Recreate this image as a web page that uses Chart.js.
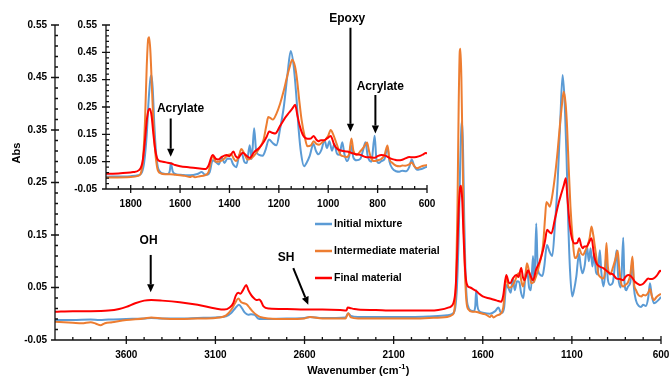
<!DOCTYPE html>
<html>
<head>
<meta charset="utf-8">
<script src="https://cdn.jsdelivr.net/npm/chart.js@4.4.0/dist/chart.umd.min.js"></script>
<style>
  html, body { margin: 0; padding: 0; background: #fff; }
  #wrap { position: relative; width: 669px; height: 378px; }
  #mainChart, #insetChart { position: absolute; left: 0; top: 0; }
</style>
</head>
<body>
<div id="wrap">
  <canvas id="mainChart" width="669" height="378"></canvas>
  <canvas id="insetChart" width="440" height="215"></canvas>
</div>
<script>
// series names (legend)
var seriesNames = ['Initial mixture', 'Intermediate material', 'Final material'];

// tick labels
var mainXTicks = [3600, 3100, 2600, 2100, 1600, 1100, 600];
var insetXTicks = [1800, 1600, 1400, 1200, 1000, 800, 600];
var absTicks = [-0.05, 0.05, 0.15, 0.25, 0.35, 0.45, 0.55];

// Initial mixture (blue)
var initialWn = [4000, 3900, 3800, 3750, 3700, 3600, 3500, 3460, 3400, 3300, 3200, 3100, 3040, 3010, 2990, 2968, 2950, 2935, 2916, 2900,
  2880, 2860, 2841, 2700, 2600, 2570, 2500, 2370, 2355, 2340, 2300, 2200, 2100, 2000, 1900, 1800, 1770, 1755, 1745, 1735,
  1727, 1720, 1716, 1711, 1704, 1697, 1690, 1680, 1665, 1650, 1642, 1637, 1630, 1620, 1600, 1560, 1530, 1512, 1500, 1490,
  1480, 1468, 1455, 1443, 1432, 1420, 1408, 1395, 1385, 1372, 1360, 1350, 1340, 1330, 1318, 1310, 1300, 1292, 1280, 1265,
  1255, 1240, 1225, 1210, 1195, 1180, 1165, 1152, 1140, 1130, 1120, 1110, 1098, 1088, 1075, 1060, 1050, 1040, 1028, 1015,
  1005, 995, 985, 975, 965, 955, 943, 935, 924, 915, 908, 898, 885, 870, 858, 849, 840, 825, 812, 805,
  795, 785, 772, 760, 752, 740, 725, 712, 700, 685, 672, 662, 652, 640, 628, 615, 600];
var initialAbs = [-0.012, -0.012, -0.011, -0.012, -0.011, -0.010, -0.009, -0.008, -0.009, -0.009, -0.008, -0.007, -0.005, 0.002, 0.010, 0.017, 0.010, 0.002, -0.002, -0.001,
  -0.002, -0.009, -0.010, -0.009, -0.008, -0.006, -0.008, -0.007, 0.001, -0.004, -0.006, -0.006, -0.006, -0.006, -0.005, -0.003, 0.000, 0.010, 0.050, 0.150,
  0.280, 0.355, 0.366, 0.320, 0.180, 0.080, 0.030, 0.012, 0.006, 0.005, 0.015, 0.045, 0.015, 0.005, 0.002, 0.000, 0.005, 0.012, 0.003, 0.002,
  0.012, 0.055, 0.048, 0.040, 0.066, 0.045, 0.062, 0.060, 0.040, 0.030, 0.075, 0.080, 0.050, 0.045, 0.110, 0.060, 0.172, 0.090, 0.075, 0.072,
  0.090, 0.131, 0.118, 0.110, 0.170, 0.250, 0.369, 0.455, 0.400, 0.300, 0.170, 0.080, 0.033, 0.045, 0.071, 0.115, 0.090, 0.077, 0.092, 0.128,
  0.100, 0.125, 0.090, 0.115, 0.080, 0.075, 0.121, 0.080, 0.052, 0.070, 0.110, 0.065, 0.055, 0.060, 0.095, 0.121, 0.070, 0.050, 0.145, 0.060,
  0.045, 0.052, 0.060, 0.102, 0.050, 0.025, 0.015, 0.013, 0.017, 0.015, 0.030, 0.058, 0.035, 0.020, 0.022, 0.026, 0.032];

// Intermediate material (orange)
var intermediateWn = [4000, 3950, 3900, 3850, 3800, 3770, 3745, 3720, 3680, 3600, 3500, 3460, 3400, 3300, 3200, 3100, 3040, 3010, 2990, 2972,
  2955, 2940, 2925, 2905, 2890, 2870, 2850, 2800, 2700, 2600, 2570, 2500, 2370, 2355, 2340, 2300, 2200, 2100, 2000, 1900,
  1800, 1770, 1760, 1750, 1742, 1735, 1729, 1725, 1720, 1714, 1707, 1700, 1692, 1680, 1660, 1640, 1620, 1600, 1580, 1560,
  1550, 1540, 1520, 1500, 1485, 1468, 1455, 1445, 1430, 1420, 1405, 1393, 1382, 1374, 1362, 1352, 1340, 1327, 1315, 1300,
  1281, 1262, 1250, 1243, 1235, 1224, 1210, 1195, 1180, 1168, 1155, 1146, 1135, 1127, 1118, 1108, 1095, 1084, 1070, 1059,
  1048, 1037, 1025, 1014, 1000, 990, 980, 971, 960, 952, 940, 924, 915, 906, 898, 885, 868, 855, 843, 835,
  825, 812, 800, 785, 772, 760, 752, 740, 725, 710, 700, 688, 672, 662, 650, 640, 625, 610, 600];
var intermediateAbs = [-0.015, -0.016, -0.017, -0.018, -0.016, -0.019, -0.022, -0.018, -0.016, -0.012, -0.009, -0.007, -0.009, -0.010, -0.009, -0.008, -0.003, 0.008, 0.020, 0.029,
  0.022, 0.020, 0.018, 0.010, 0.004, -0.002, -0.006, -0.009, -0.010, -0.009, -0.006, -0.009, -0.009, 0.001, -0.007, -0.009, -0.009, -0.009, -0.009, -0.008,
  -0.006, -0.002, 0.005, 0.060, 0.200, 0.400, 0.500, 0.505, 0.450, 0.320, 0.170, 0.080, 0.025, 0.008, 0.004, 0.004, 0.002, 0.000, -0.002, -0.006,
  -0.003, -0.007, -0.003, 0.000, 0.012, 0.071, 0.050, 0.050, 0.055, 0.062, 0.075, 0.077, 0.060, 0.052, 0.070, 0.096, 0.080, 0.058, 0.060, 0.072,
  0.096, 0.130, 0.185, 0.213, 0.210, 0.204, 0.225, 0.262, 0.310, 0.356, 0.400, 0.423, 0.400, 0.356, 0.280, 0.204, 0.140, 0.106, 0.110, 0.125,
  0.115, 0.112, 0.120, 0.128, 0.145, 0.166, 0.150, 0.128, 0.100, 0.077, 0.070, 0.067, 0.080, 0.135, 0.090, 0.075, 0.090, 0.105, 0.120, 0.090,
  0.060, 0.052, 0.055, 0.060, 0.075, 0.109, 0.060, 0.045, 0.035, 0.033, 0.036, 0.035, 0.040, 0.047, 0.032, 0.026, 0.032, 0.036, 0.038];

// Final material (red)
var finalWn = [4000, 3900, 3800, 3700, 3640, 3600, 3550, 3500, 3460, 3400, 3300, 3200, 3100, 3050, 3020, 3000, 2985, 2972, 2960, 2945,
  2927, 2915, 2900, 2885, 2870, 2855, 2845, 2830, 2800, 2700, 2600, 2500, 2400, 2365, 2358, 2345, 2320, 2300, 2200, 2100,
  2000, 1900, 1850, 1790, 1765, 1752, 1742, 1735, 1728, 1722, 1715, 1708, 1700, 1693, 1685, 1670, 1650, 1635, 1620, 1600,
  1560, 1520, 1496, 1485, 1468, 1455, 1446, 1430, 1412, 1400, 1384, 1375, 1365, 1355, 1346, 1335, 1318, 1300, 1281, 1262,
  1250, 1239, 1225, 1215, 1196, 1175, 1159, 1145, 1134, 1125, 1115, 1102, 1084, 1070, 1059, 1048, 1040, 1030, 1018, 1005,
  990, 975, 962, 945, 924, 905, 887, 870, 849, 830, 812, 800, 784, 770, 760, 746, 730, 718, 700, 690,
  671, 660, 643, 625, 615, 605, 600];
var finalAbs = [0.004, 0.005, 0.005, 0.006, 0.009, 0.013, 0.020, 0.025, 0.026, 0.025, 0.022, 0.017, 0.010, 0.008, 0.012, 0.020, 0.035, 0.040, 0.038, 0.045,
  0.055, 0.045, 0.036, 0.030, 0.026, 0.027, 0.024, 0.014, 0.010, 0.009, 0.008, 0.008, 0.007, 0.006, 0.012, 0.011, 0.009, 0.008, 0.007, 0.006,
  0.006, 0.006, 0.007, 0.012, 0.020, 0.050, 0.130, 0.200, 0.238, 0.244, 0.215, 0.150, 0.090, 0.062, 0.053, 0.050, 0.046, 0.043, 0.038, 0.033,
  0.029, 0.025, 0.023, 0.035, 0.074, 0.060, 0.058, 0.068, 0.074, 0.070, 0.087, 0.070, 0.064, 0.075, 0.083, 0.075, 0.064, 0.085, 0.099, 0.121,
  0.140, 0.160, 0.155, 0.153, 0.179, 0.210, 0.229, 0.245, 0.258, 0.220, 0.180, 0.147, 0.134, 0.135, 0.144, 0.130, 0.125, 0.128, 0.128, 0.135,
  0.144, 0.110, 0.096, 0.090, 0.087, 0.082, 0.077, 0.075, 0.067, 0.066, 0.064, 0.070, 0.074, 0.072, 0.068, 0.061, 0.057, 0.055, 0.057, 0.061,
  0.067, 0.066, 0.067, 0.072, 0.077, 0.082, 0.080];

var colors = ['#5B9BD5', '#ED7D31', '#FF0000'];
var FONT = "'Liberation Sans', Arial, sans-serif";

function toPoints(xs, ys) {
  return xs.map(function (x, i) { return { x: x, y: ys[i] }; });
}

function makeDatasets() {
  var sets = [[initialWn, initialAbs], [intermediateWn, intermediateAbs], [finalWn, finalAbs]];
  return sets.map(function (s, i) {
    return {
      label: seriesNames[i],
      data: toPoints(s[0], s[1]),
      borderColor: colors[i],
      borderWidth: 2,
      pointRadius: 0,
      fill: false,
      cubicInterpolationMode: 'monotone',
      order: 3 - i
    };
  });
}

// draws axis lines, major (crossing) and minor (inside) tick marks
function drawAxes(chart, xMinor, yMinor) {
  var ctx = chart.ctx, xs = chart.scales.x, ys = chart.scales.y, a = chart.chartArea;
  ctx.save();
  ctx.strokeStyle = '#111';
  ctx.lineWidth = 1.3;
  ctx.beginPath();
  ctx.moveTo(a.left, a.top);
  ctx.lineTo(a.left, a.bottom);
  ctx.lineTo(a.right, a.bottom);
  var n = Math.round((xs.max - xs.min) / xMinor), k, p;
  for (k = 0; k <= n; k++) {
    p = xs.getPixelForValue(xs.min + k * xMinor);
    ctx.moveTo(p, a.bottom);
    ctx.lineTo(p, a.bottom - 3);
  }
  xs.ticks.forEach(function (t) {
    p = xs.getPixelForValue(t.value);
    ctx.moveTo(p, a.bottom - 4);
    ctx.lineTo(p, a.bottom + 4);
  });
  n = Math.round((ys.max - ys.min) / yMinor);
  for (k = 0; k <= n; k++) {
    p = ys.getPixelForValue(ys.min + k * yMinor);
    ctx.moveTo(a.left, p);
    ctx.lineTo(a.left + 3, p);
  }
  ys.ticks.forEach(function (t) {
    p = ys.getPixelForValue(t.value);
    ctx.moveTo(a.left - 4, p);
    ctx.lineTo(a.left + 4, p);
  });
  ctx.stroke();
  ctx.restore();
}

function arrow(ctx, x1, y1, x2, y2) {
  var ang = Math.atan2(y2 - y1, x2 - x1), len = 8, hw = 3.6;
  var bx = x2 - len * Math.cos(ang), by = y2 - len * Math.sin(ang);
  ctx.beginPath();
  ctx.moveTo(x1, y1);
  ctx.lineTo(bx, by);
  ctx.lineWidth = 2;
  ctx.stroke();
  ctx.beginPath();
  ctx.moveTo(x2, y2);
  ctx.lineTo(bx + hw * Math.sin(ang), by - hw * Math.cos(ang));
  ctx.lineTo(bx - hw * Math.sin(ang), by + hw * Math.cos(ang));
  ctx.closePath();
  ctx.fill();
}

// notes: text position and arrow in data units
function drawNotes(chart, notes) {
  var ctx = chart.ctx, xs = chart.scales.x, ys = chart.scales.y;
  ctx.save();
  ctx.fillStyle = '#000';
  ctx.strokeStyle = '#000';
  ctx.font = 'bold 12px ' + FONT;
  ctx.textAlign = 'center';
  ctx.textBaseline = 'middle';
  notes.forEach(function (nt) {
    ctx.fillText(nt.text, xs.getPixelForValue(nt.tx), ys.getPixelForValue(nt.ty));
    arrow(ctx, xs.getPixelForValue(nt.ax1), ys.getPixelForValue(nt.ay1),
      xs.getPixelForValue(nt.ax2), ys.getPixelForValue(nt.ay2));
  });
  ctx.restore();
}

var mainNotes = [
  { text: 'OH', tx: 3475, ty: 0.139, ax1: 3463, ay1: 0.112, ax2: 3463, ay2: 0.041 },
  { text: 'SH', tx: 2704, ty: 0.106, ax1: 2663, ay1: 0.087, ax2: 2579, ay2: 0.017 }
];
var insetNotes = [
  { text: 'Acrylate', tx: 1598, ty: 0.242, ax1: 1638, ay1: 0.208, ax2: 1638, ay2: 0.068 },
  { text: 'Epoxy', tx: 923, ty: 0.572, ax1: 910, ay1: 0.54, ax2: 910, ay2: 0.159 },
  { text: 'Acrylate', tx: 789, ty: 0.323, ax1: 809, ay1: 0.294, ax2: 809, ay2: 0.153 }
];

var mainDecor = {
  id: 'mainDecor',
  afterDraw: function (chart) {
    var ctx = chart.ctx, a = chart.chartArea;
    drawAxes(chart, 100, 0.02);
    drawNotes(chart, mainNotes);
    ctx.save();
    // legend
    ctx.font = 'bold 10.5px ' + FONT;
    ctx.textBaseline = 'middle';
    ctx.textAlign = 'left';
    seriesNames.forEach(function (name, i) {
      var y = 224 + i * 27;
      ctx.strokeStyle = colors[i];
      ctx.lineWidth = 2.5;
      ctx.beginPath();
      ctx.moveTo(315, y);
      ctx.lineTo(332, y);
      ctx.stroke();
      ctx.fillStyle = '#000';
      ctx.fillText(name, 334, y + 0.5);
    });
    // axis titles
    ctx.font = 'bold 11px ' + FONT;
    var t1 = 'Wavenumber (cm', t2 = ')', sup = '-1';
    var w1 = ctx.measureText(t1).width, w2 = ctx.measureText(t2).width;
    ctx.font = 'bold 7.5px ' + FONT;
    var ws = ctx.measureText(sup).width;
    var cx = (a.left + a.right) / 2, x0 = cx - (w1 + ws + w2) / 2, ty = 371;
    ctx.font = 'bold 11px ' + FONT;
    ctx.fillText(t1, x0, ty);
    ctx.fillText(t2, x0 + w1 + ws + 0.5, ty);
    ctx.font = 'bold 7.5px ' + FONT;
    ctx.fillText(sup, x0 + w1 + 0.3, ty - 4);
    ctx.font = 'bold 11px ' + FONT;
    ctx.translate(17, 153);
    ctx.rotate(-Math.PI / 2);
    ctx.textAlign = 'center';
    ctx.fillText('Abs', 0, 0);
    ctx.restore();
  }
};

var insetDecor = {
  id: 'insetDecor',
  afterDraw: function (chart) {
    drawAxes(chart, 50, 0.02);
    drawNotes(chart, insetNotes);
  }
};

function xScale(min, max, tickList, height) {
  return {
    type: 'linear', min: min, max: max, reverse: true,
    grid: { display: false, drawTicks: false },
    border: { display: false },
    afterBuildTicks: function (s) { s.ticks = tickList.map(function (v) { return { value: v }; }); },
    afterFit: function (s) { s.height = height; s.paddingLeft = 0; s.paddingRight = 0; },
    ticks: {
      autoSkip: false, maxRotation: 0, padding: 9, color: '#000',
      font: { family: FONT, size: 10, weight: 'bold' },
      callback: function (v) { return String(v); }
    }
  };
}

function yScale(width, pad) {
  return {
    type: 'linear', min: -0.05, max: 0.55,
    grid: { display: false, drawTicks: false },
    border: { display: false },
    afterBuildTicks: function (s) { s.ticks = absTicks.map(function (v) { return { value: v }; }); },
    afterFit: function (s) { s.width = width; s.paddingTop = 0; s.paddingBottom = 0; },
    ticks: {
      padding: pad, color: '#000',
      font: { family: FONT, size: 10, weight: 'bold' },
      callback: function (v) { return v.toFixed(2); }
    }
  };
}

new Chart(document.getElementById('mainChart').getContext('2d'), {
  type: 'line',
  data: { datasets: makeDatasets() },
  options: {
    responsive: false,
    animation: false,
    layout: { padding: { top: 25, right: 8, left: 0, bottom: 0 } },
    plugins: { legend: { display: false }, tooltip: { enabled: false } },
    scales: { x: xScale(600, 4000, mainXTicks, 38), y: yScale(55, 8) }
  },
  plugins: [mainDecor]
});

new Chart(document.getElementById('insetChart').getContext('2d'), {
  type: 'line',
  data: { datasets: makeDatasets() },
  options: {
    responsive: false,
    animation: false,
    layout: { padding: { top: 25, right: 13, left: 0, bottom: 0 } },
    plugins: { legend: { display: false }, tooltip: { enabled: false } },
    scales: { x: xScale(600, 1900, insetXTicks, 26), y: yScale(106, 9) }
  },
  plugins: [insetDecor]
});
</script>
</body>
</html>
